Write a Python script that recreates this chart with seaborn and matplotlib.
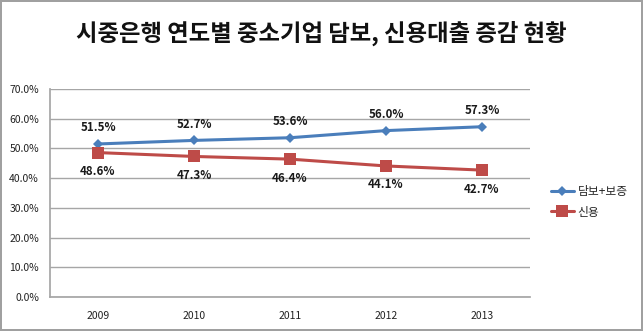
import matplotlib
matplotlib.use("Agg")
import matplotlib.pyplot as plt
import seaborn as sns
import pandas as pd
from matplotlib.lines import Line2D

years = ["2009", "2010", "2011", "2012", "2013"]
secured = [51.5, 52.7, 53.6, 56.0, 57.3]   # 담보+보증
credit = [48.6, 47.3, 46.4, 44.1, 42.7]    # 신용
series_names = ["담보+보증", "신용"]
yticks = [0, 10, 20, 30, 40, 50, 60, 70]
title = "시중은행 연도별 중소기업 담보, 신용대출 증감 현황"

sns.set_theme(style="white")
plt.rcParams["font.family"] = ["Noto Sans CJK KR", "DejaVu Sans"]

df = pd.DataFrame({
    "year": years * 2,
    "value": secured + credit,
    "kind": [series_names[0]] * len(years) + [series_names[1]] * len(years),
})

colors = {"담보+보증": "#4A7EBB", "신용": "#BE4B48"}

fig = plt.figure(figsize=(6.43, 3.31), dpi=100)
fig.patch.set_edgecolor("#A0A0A0")
fig.patch.set_linewidth(1.5)
ax = fig.add_axes([50 / 643, 1 - 297 / 331, 480 / 643, 208 / 331])

sns.lineplot(data=df, x="year", y="value", hue="kind", style="kind",
             palette=colors, markers={"담보+보증": "D", "신용": "s"},
             dashes=False, linewidth=2.2, ax=ax, legend=False,
             markeredgewidth=0)
for line, ms in zip(ax.get_lines(), [5, 8]):
    line.set_markersize(ms)

ax.set_xlim(-0.5, len(years) - 0.5)
ax.set_ylim(0, 70)
ax.set_yticks(yticks)
ax.set_yticklabels([f"{v:.1f}%" for v in yticks], fontsize=7.5, color="#222222")
ax.set_xticks(range(len(years)))
ax.set_xticklabels(years, fontsize=7.5, color="#222222")
ax.tick_params(axis="both", length=0, pad=8)
ax.tick_params(axis="x", pad=10)
ax.set_xlabel("")
ax.set_ylabel("")
ax.yaxis.grid(True, color="#A6A6A6", linewidth=1)
ax.set_axisbelow(True)
for side in ["top", "right"]:
    ax.spines[side].set_visible(False)
ax.spines["left"].set_color("#A6A6A6")
ax.spines["bottom"].set_color("#A6A6A6")

for i, (a, b) in enumerate(zip(secured, credit)):
    ax.annotate(f"{a:.1f}%", (i, a), xytext=(0, 7), textcoords="offset points",
                ha="center", va="bottom", fontsize=8.3, fontweight="bold", color="#1a1a1a")
    ax.annotate(f"{b:.1f}%", (i, b), xytext=(0, -9), textcoords="offset points",
                ha="center", va="top", fontsize=8.3, fontweight="bold", color="#1a1a1a")

handles = [
    Line2D([], [], color=colors["담보+보증"], marker="D", markersize=5, linewidth=2.2, markeredgewidth=0),
    Line2D([], [], color=colors["신용"], marker="s", markersize=8, linewidth=2.2, markeredgewidth=0),
]
fig.legend(handles, series_names, loc="center left", bbox_to_anchor=(540 / 643, 1 - 202 / 331),
           frameon=False, fontsize=8.5, handlelength=2.0, handletextpad=0.3, labelspacing=0.6)

fig.text(321 / 643, 1 - 33 / 331, title, ha="center", va="center", fontsize=16.8, fontweight="bold",
         color="#111111")

fig.savefig("out.png", dpi=100)
